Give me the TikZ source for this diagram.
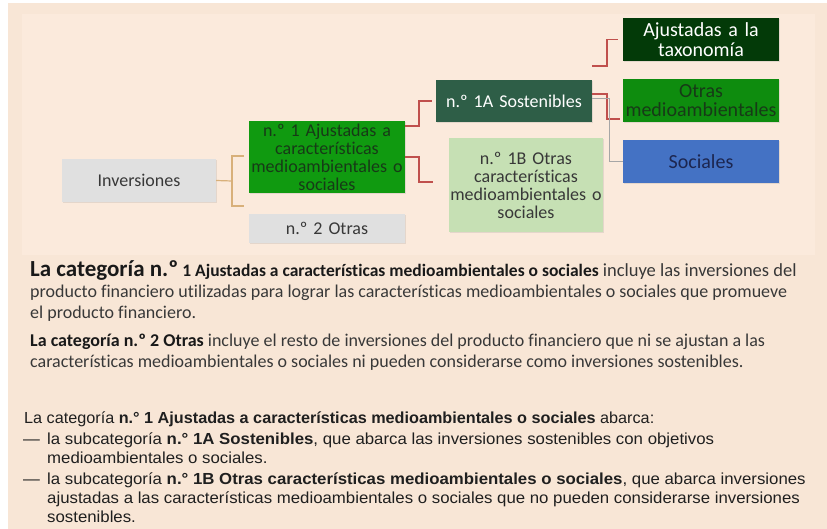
\documentclass[tikz,border=0pt]{standalone}
\usepackage{fontspec}
\usepackage{graphicx}
\setmainfont{Carlito}[Ligatures=NoCommon]
\newfontfamily\narrowsans[FakeStretch=1.05]{Liberation Sans}
\usetikzlibrary{calc,shadows}
\definecolor{bgpeach}{HTML}{F8E6D6}
\definecolor{bginner}{HTML}{FBEADC}
\definecolor{boxgray}{HTML}{E0E0E0}
\definecolor{greenA}{HTML}{109A10}
\definecolor{greenB}{HTML}{0E8C0E}
\definecolor{darkgreen}{HTML}{2E5E47}
\definecolor{deepgreen}{HTML}{033A08}
\definecolor{lightgreen}{HTML}{C6E0B4}
\definecolor{socblue}{HTML}{4472C4}
\definecolor{navytext}{HTML}{1C2650}
\definecolor{greentext}{HTML}{173A17}
\definecolor{linkred}{HTML}{C0504D}
\definecolor{linktan}{HTML}{D8B07A}
\definecolor{linkgray}{HTML}{A6A6A6}
\definecolor{bodytext}{HTML}{383838}
\begin{document}
\begin{tikzpicture}[x=1pt,y=-1pt,
  boxbase/.style={inner sep=0pt, align=center, drop shadow={shadow xshift=1.2pt, shadow yshift=-1.5pt, opacity=0.18}},
  leftbox/.style={boxbase, minimum width=156pt, text width=156pt, font=\fontsize{18}{18}\selectfont},
  rightbox/.style={boxbase, minimum width=156pt, minimum height=43pt, text width=156pt, font=\fontsize{20}{19.5}\selectfont},
  redlink/.style={draw=linkred, line width=1.5pt},
  tanlink/.style={draw=linktan, line width=1.2pt},
  graylink/.style={draw=linkgray, line width=1pt},
  bodyline/.style={anchor=base west, inner sep=0pt, text=bodytext, font=\fontsize{18}{20.5}\selectfont},
  armline/.style={anchor=base west, inner sep=0pt, text=black!88, font=\narrowsans\fontsize{16}{19}\selectfont}
]
\path[use as bounding box] (0,0) rectangle (827,529);
\fill[white] (0,0) rectangle (827,529);
\fill[bgpeach] (8,3) rectangle (827,529);
\fill[bginner] (22,14) rectangle (815,255);

% boxes
\node[leftbox, fill=boxgray, minimum width=154pt, text width=154pt, minimum height=43pt, text=bodytext] (inv) at (139,180.5) {Inversiones};
\node[leftbox, fill=greenA, minimum height=72pt, text=greentext] (n1) at (327,157) {n.º 1 Ajustadas a\\características\\medioambientales o\\sociales};
\node[leftbox, fill=boxgray, minimum height=29pt, text=bodytext] (n2) at (327,228.5) {n.º 2 Otras};
\node[leftbox, fill=darkgreen, minimum height=42pt, text=white] (s1a) at (514,101) {n.º 1A Sostenibles};
\node[leftbox, fill=lightgreen, minimum width=154pt, text width=154pt, minimum height=94pt, text=bodytext] (s1b) at (526,185) {n.º 1B Otras\\características\\medioambientales o\\sociales};
\node[rightbox, fill=deepgreen, text=white] (taxo) at (701,39.5) {Ajustadas a la\\taxonomía};
\node[rightbox, fill=greenB, text=greentext] (otrasm) at (701,100.5) {Otras\\medioambientales};
\node[rightbox, fill=socblue, text=navytext] (soc) at (701,161.5) {Sociales};

% tan bracket
\coordinate (bx) at (232,181);
\coordinate (ta) at (244,156);
\coordinate (tb) at (244,206);
\draw[tanlink] (inv.east) -- (bx);
\draw[tanlink] (ta) -- (ta -| bx) -- (tb -| bx) -- (tb);

% red links from n1
\draw[redlink] ($(n1.north east)+(0,5)$) -- ++(14,0) |- ($(s1a.west)+(-4,0)$);
\coordinate (e1b) at (433,182);
\draw[redlink] (n1.east) -- ++(14,0) |- (e1b);

% links from s1a
\coordinate (t0) at (592,66);
\draw[redlink] (t0) -- ++(15,0) |- ($(taxo.west)+(-5,0)$);
\draw[redlink] ($(s1a.east)+(0,-7)$) -- ++(15,0) |- ($(otrasm.south west)+(-3,-3)$);
\draw[graylink] ($(s1a.east)+(0,-2)$) -- ++(17,0) |- (soc.west);

% paragraph 1
\node[bodyline] (p1a) at (30,277) {{\fontsize{23}{22}\selectfont\bfseries\color{black!90}La categoría n.º} {\fontsize{17.5}{20}\selectfont\bfseries\color{black!90}1 Ajustadas a características medioambientales o sociales} {\fontsize{18.5}{20}\selectfont incluye las inversiones del}};
\node[bodyline] (p1b) at (30,298) {producto financiero utilizadas para lograr las características medioambientales o sociales que promueve};
\node[bodyline] (p1c) at (30,319) {el producto financiero.};
% paragraph 2
\node[bodyline] (p2a) at (30,346) {{\bfseries\color{black!90}La categoría n.º 2 Otras} incluye el resto de inversiones del producto financiero que ni se ajustan a las};
\node[bodyline] (p2b) at (30,367) {características medioambientales o sociales ni pueden considerarse como inversiones sostenibles.};

% section 3
\node[armline] (q1) at (24,423) {\scalebox{0.965}[1]{La categoría \textbf{n.° 1 Ajustadas a características medioambientales o sociales} abarca:}};
\node[armline] (d1) at (23,444) {—};
\node[armline] (q2) at (47,444) {la subcategoría \textbf{n.° 1A Sostenibles}, que abarca las inversiones sostenibles con objetivos};
\node[armline] (q3) at (47,463) {medioambientales o sociales.};
\node[armline] (d2) at (23,484) {—};
\node[armline] (q4) at (47,484) {la subcategoría \textbf{n.° 1B Otras características medioambientales o sociales}, que abarca inversiones};
\node[armline] (q5) at (47,503) {ajustadas a las características medioambientales o sociales que no pueden considerarse inversiones};
\node[armline] (q6) at (47,522) {sostenibles.};
\end{tikzpicture}
\end{document}
